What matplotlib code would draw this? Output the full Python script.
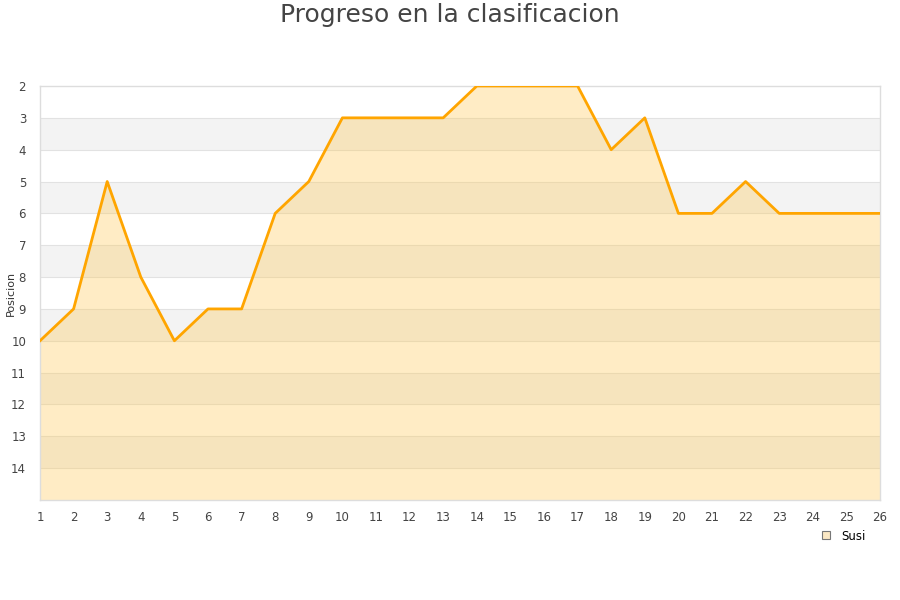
import matplotlib
matplotlib.use("Agg")
import matplotlib.pyplot as plt
from matplotlib.lines import Line2D

jornadas = list(range(1, 27))
posiciones = [10, 9, 5, 8, 10, 9, 9, 6, 5, 3, 3, 3, 3, 2, 2, 2, 2, 4, 3, 6, 6, 5, 6, 6, 6, 6]
yticks = list(range(2, 15))
serie = "Susi"

fig = plt.figure(figsize=(9, 6), dpi=100)
ax = fig.add_axes([40/900, 1-500/600, 840/900, 414/600])

ymin, ymax = 2, 15
for k in range(ymin, ymax):
    if k % 2 == 1:
        ax.axhspan(k, k+1, color="#f3f3f3", zorder=0, lw=0)
for k in range(ymin+1, ymax):
    ax.axhline(k, color="#e2e2e2", lw=0.8, zorder=1)

ax.fill_between(jornadas, posiciones, ymax, color=(1.0, 0.78, 0.31), alpha=0.33, lw=0, zorder=2)
ax.plot(jornadas, posiciones, color="#FFA500", lw=2.0, zorder=3)

ax.set_xlim(1, 26)
ax.set_ylim(ymax, ymin)
ax.set_xticks(jornadas)
ax.set_yticks(yticks)
ax.tick_params(axis="both", length=0, labelsize=8.5, colors="#444444")
ax.tick_params(axis="x", pad=8)
ax.tick_params(axis="y", pad=10)
for s in ["top", "right", "bottom", "left"]:
    ax.spines[s].set_color("#dddddd")
    ax.spines[s].set_linewidth(1)
ax.set_ylabel("Posicion", fontsize=8, color="#333333")
ax.yaxis.set_label_coords(-24/840, 0.5)

fig.suptitle("Progreso en la clasificacion", fontsize=18, color="#444444", y=0.995)

handle = Line2D([], [], marker="s", ls="none", markersize=6, markerfacecolor="#fbe8c4", markeredgecolor="#777777", markeredgewidth=0.8)
fig.legend([handle], [serie], loc="center", bbox_to_anchor=(840/900, 1-536/600), frameon=False, fontsize=8.5, handletextpad=0.3)

fig.savefig("out.png", dpi=100)
